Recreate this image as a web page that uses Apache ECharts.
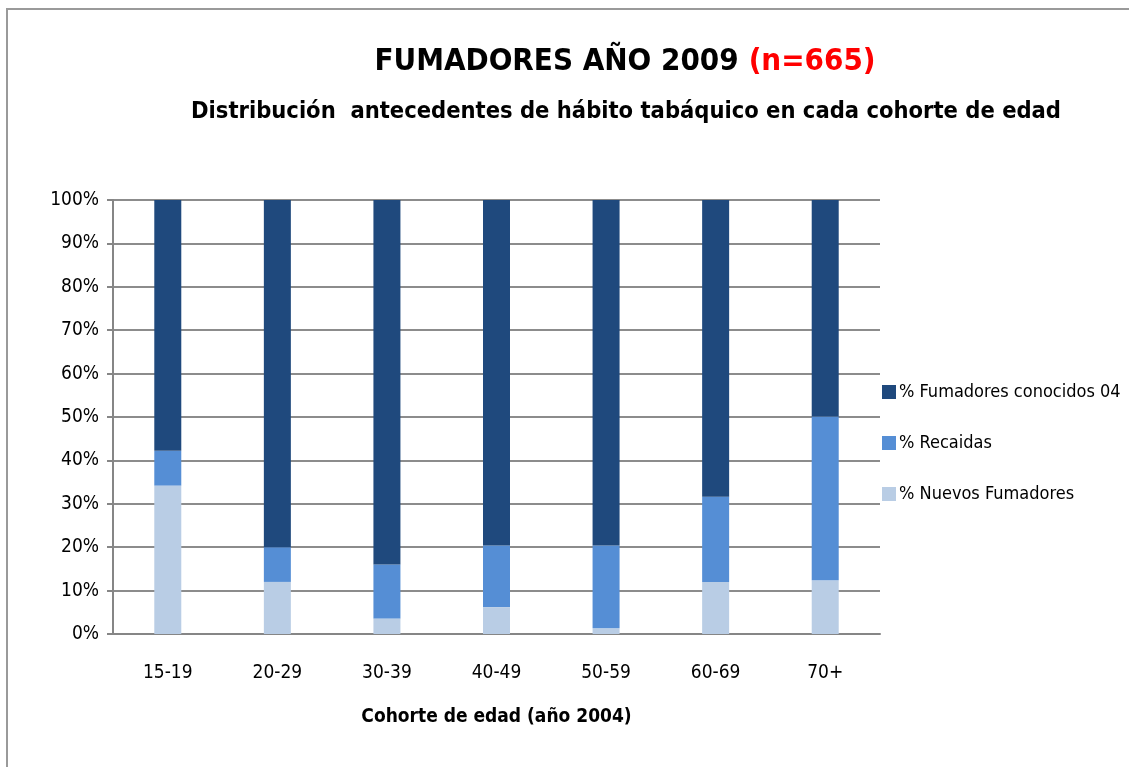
<!DOCTYPE html>
<html>
<head>
<meta charset="utf-8">
<script src="https://cdn.jsdelivr.net/npm/echarts@6/dist/echarts.min.js"></script>
<style>
  html, body { margin: 0; padding: 0; background: #fff; }
  #main { width: 1129px; height: 767px; }
</style>
</head>
<body>
<div id="main"></div>
<script>
var FONT = '"Liberation Sans Narrow", "DejaVu Sans Condensed", sans-serif';

// datos
var cohortes = ['15-19', '20-29', '30-39', '40-49', '50-59', '60-69', '70+'];
var nuevos = [34.2, 12.0, 3.6, 6.2, 1.3, 12.0, 12.4];
var recaidas = [8.0, 8.0, 12.4, 14.2, 19.1, 19.6, 37.7];
var conocidos = [57.8, 80.0, 84.0, 79.6, 79.6, 68.4, 49.9];
var yTicks = [0, 10, 20, 30, 40, 50, 60, 70, 80, 90, 100];

var chart = echarts.init(document.getElementById('main'));
var option = {
    backgroundColor: '#fff',
    animation: false,
    graphic: [{
        type: 'rect',
        shape: { x: 7, y: 9, width: 1200, height: 800 },
        style: { fill: 'none', stroke: '#9a9a9a', lineWidth: 2 }
    }],
    title: [{
        text: '{a|FUMADORES AÑO 2009}  {b|(n=665)}',
        left: 620,
        textAlign: 'center',
        top: 41,
        textStyle: {
            rich: {
                a: { fontFamily: FONT, fontWeight: 'bold', fontSize: 31, color: '#000' },
                b: { fontFamily: FONT, fontWeight: 'bold', fontSize: 31, color: '#ff0000' }
            }
        }
    }, {
        text: 'Distribución  antecedentes de hábito tabáquico en cada cohorte de edad',
        left: 621,
        textAlign: 'center',
        top: 95,
        textStyle: { fontFamily: FONT, fontWeight: 'bold', fontSize: 23.5, color: '#000' }
    }],
    legend: {
        orient: 'vertical',
        left: 877,
        top: 378,
        itemWidth: 14,
        itemHeight: 14,
        itemGap: 33,
        icon: 'rect',
        data: ['% Fumadores conocidos 04', '% Recaidas', '% Nuevos Fumadores'],
        textStyle: { fontFamily: FONT, fontSize: 18, color: '#000', padding: [0, 0, 0, -2] }
    },
    grid: { left: 113, right: 249, top: 200, bottom: 133 },
    xAxis: {
        type: 'category',
        data: cohortes,
        name: 'Cohorte de edad (año 2004)',
        nameLocation: 'middle',
        nameGap: 74,
        nameTextStyle: { fontFamily: FONT, fontWeight: 'bold', fontSize: 19, color: '#000' },
        axisLine: { lineStyle: { color: '#868686', width: 2 } },
        axisTick: { show: false },
        axisLabel: { fontFamily: FONT, fontSize: 19, color: '#000', margin: 30 }
    },
    yAxis: {
        type: 'value',
        min: yTicks[0],
        max: yTicks[yTicks.length - 1],
        interval: 10,
        axisLine: { show: true, lineStyle: { color: '#868686', width: 2 } },
        axisTick: { show: true, length: 6, lineStyle: { color: '#868686', width: 2 } },
        axisLabel: { fontFamily: FONT, fontSize: 19, color: '#000', margin: 14, formatter: '{value}%' },
        splitLine: { lineStyle: { color: '#8c8c8c', width: 2 } }
    },
    series: [{
        name: '% Nuevos Fumadores',
        type: 'bar',
        stack: 'total',
        barWidth: 27,
        data: nuevos,
        itemStyle: { color: '#B9CDE5' }
    }, {
        name: '% Recaidas',
        type: 'bar',
        stack: 'total',
        data: recaidas,
        itemStyle: { color: '#558ED5' }
    }, {
        name: '% Fumadores conocidos 04',
        type: 'bar',
        stack: 'total',
        data: conocidos,
        itemStyle: { color: '#1F497D' }
    }]
};
chart.setOption(option);
</script>
</body>
</html>
